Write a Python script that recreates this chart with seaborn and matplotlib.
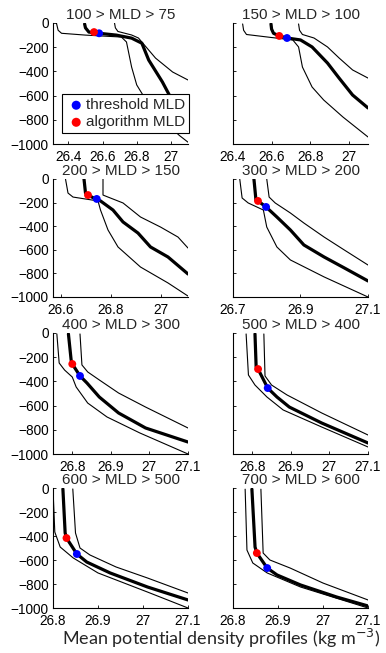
import numpy as np
import pandas as pd
import matplotlib
matplotlib.use("Agg")
import matplotlib.pyplot as plt
import seaborn as sns

# panel titles and axis settings
titles = ["100 > MLD > 75", "150 > MLD > 100", "200 > MLD > 150", "300 > MLD > 200",
          "400 > MLD > 300", "500 > MLD > 400", "600 > MLD > 500", "700 > MLD > 600"]
xlims = [(26.31, 27.1), (26.4, 27.1), (26.57, 27.11), (26.7, 27.1),
         (26.75, 27.1), (26.75, 27.1), (26.8, 27.1), (26.8, 27.1)]
xticks = [[26.4, 26.6, 26.8, 27], [26.4, 26.6, 26.8, 27], [26.6, 26.8, 27], [26.7, 26.9, 27.1],
          [26.8, 26.9, 27, 27.1], [26.8, 26.9, 27, 27.1], [26.8, 26.9, 27, 27.1], [26.8, 26.9, 27, 27.1]]
yticks = [-1000, -800, -600, -400, -200, 0]

# mean density profile (thick line)
mean_x = [
    [26.495, 26.50, 26.52, 26.55, 26.58, 26.68, 26.77, 26.83, 26.87, 26.95, 27.03, 27.1],
    [26.597, 26.60, 26.61, 26.64, 26.68, 26.75, 26.81, 26.89, 26.95, 27.02, 27.1],
    [26.694, 26.70, 26.71, 26.74, 26.76, 26.81, 26.85, 26.91, 26.96, 27.03, 27.11],
    [26.762, 26.768, 26.774, 26.798, 26.83, 26.87, 26.91, 26.97, 27.03, 27.1],
    [26.79, 26.797, 26.80, 26.82, 26.838, 26.87, 26.92, 26.99, 27.1],
    [26.807, 26.81, 26.815, 26.84, 26.864, 26.896, 26.98, 27.1],
    [26.822, 26.827, 26.83, 26.853, 26.875, 26.927, 27.01, 27.1],
    [26.842, 26.849, 26.853, 26.876, 26.898, 26.95, 27.03, 27.1],
]
mean_z = [
    [-8, -40, -75, -80, -85, -100, -125, -167, -306, -487, -700, -840],
    [-8, -50, -85, -107, -124, -140, -198, -331, -455, -595, -702],
    [0, -119, -136, -169, -186, -263, -364, -458, -576, -661, -805],
    [0, -178, -186, -237, -322, -432, -559, -661, -754, -864],
    [-8, -223, -256, -355, -413, -529, -661, -785, -901],
    [-8, -281, -298, -455, -529, -612, -744, -909],
    [-8, -375, -417, -550, -617, -708, -825, -933],
    [-10, -492, -542, -667, -725, -808, -908, -983],
]

# lower envelope (thin line, left)
low_x = [
    [26.33, 26.34, 26.36, 26.5, 26.71, 26.74, 26.77, 26.80, 26.86, 26.95, 27.05, 27.1],
    [26.45, 26.455, 26.47, 26.6, 26.71, 26.74, 26.76, 26.81, 26.87, 26.97, 27.1],
    [26.62, 26.63, 26.65, 26.75, 26.76, 26.79, 26.83, 26.92, 27.03, 27.11],
    [26.72, 26.727, 26.745, 26.79, 26.80, 26.83, 26.87, 26.97, 27.1],
    [26.76, 26.766, 26.78, 26.80, 26.81, 26.84, 26.89, 26.975, 27.1],
    [26.784, 26.79, 26.807, 26.838, 26.88, 26.98, 27.1],
    [26.80, 26.804, 26.816, 26.845, 26.90, 27.01, 27.1],
    [26.827, 26.831, 26.844, 26.876, 26.95, 27.1],
]
low_z = [
    [0, -60, -85, -100, -116, -157, -364, -512, -650, -800, -930, -985],
    [-8, -60, -95, -120, -140, -198, -364, -529, -636, -777, -942],
    [0, -119, -153, -186, -263, -432, -576, -746, -881, -992],
    [0, -161, -203, -263, -407, -576, -686, -830, -1000],
    [-8, -248, -306, -364, -446, -579, -694, -826, -1000],
    [-8, -347, -430, -529, -636, -777, -942],
    [-8, -367, -492, -583, -708, -867, -1000],
    [-10, -517, -625, -708, -825, -1000],
]

# upper envelope (thin line, right)
up_x = [
    [26.67, 26.675, 26.69, 26.77, 26.81, 26.91, 27.01, 27.1],
    [26.74, 26.745, 26.76, 26.82, 26.89, 26.95, 27.02, 27.1],
    [26.77, 26.77, 26.79, 26.85, 26.92, 27.0, 27.07, 27.11],
    [26.80, 26.807, 26.825, 26.87, 26.91, 26.97, 27.03, 27.1],
    [26.82, 26.825, 26.84, 26.87, 26.92, 26.99, 27.1],
    [26.83, 26.833, 26.85, 26.89, 26.98, 27.1],
    [26.844, 26.85, 26.86, 26.882, 26.94, 27.01, 27.1],
    [26.862, 26.867, 26.882, 26.927, 27.0, 27.1],
]
up_z = [
    [0, -40, -70, -99, -124, -290, -405, -471],
    [-8, -60, -95, -124, -198, -289, -388, -455],
    [0, -136, -153, -203, -322, -407, -492, -585],
    [0, -153, -203, -288, -373, -492, -602, -729],
    [-8, -264, -322, -388, -496, -612, -785],
    [-8, -355, -430, -512, -661, -843],
    [-8, -375, -500, -558, -658, -750, -875],
    [-10, -542, -600, -667, -792, -933],
]

# MLD points
thresh_x = [26.58, 26.68, 26.745, 26.798, 26.82, 26.84, 26.853, 26.876]
thresh_z = [-85, -124, -169, -237, -355, -455, -550, -667]
algo_x = [26.55, 26.64, 26.71, 26.774, 26.80, 26.815, 26.83, 26.853]
algo_z = [-75, -107, -136, -186, -256, -298, -417, -542]

sns.set_style("ticks")
plt.rcParams["font.family"] = ["Liberation Sans", "DejaVu Sans"]
plt.rcParams["xtick.direction"] = "in"
plt.rcParams["ytick.direction"] = "in"

fig = plt.figure(figsize=(3.86, 6.53), dpi=100)

W, H = 386, 653
col_left = [53, 233]
col_w = 135
row_top = [23, 179, 333, 488]
row_bot = [144, 297, 454, 608]

for i in range(8):
    r, c = i // 2, i % 2
    ax = fig.add_axes([col_left[c] / W, 1 - row_bot[r] / H, col_w / W,
                       (row_bot[r] - row_top[r]) / H])

    for xs, zs, lw in [(low_x[i], low_z[i], 0.8), (up_x[i], up_z[i], 0.8),
                       (mean_x[i], mean_z[i], 2.3)]:
        d = pd.DataFrame({"x": xs, "z": zs})
        sns.lineplot(data=d, x="x", y="z", sort=False, estimator=None,
                     color="black", lw=lw, ax=ax)

    sns.scatterplot(x=[thresh_x[i]], y=[thresh_z[i]], color="blue", s=32,
                    edgecolor="none", ax=ax, zorder=5,
                    label="threshold MLD" if i == 0 else None)
    sns.scatterplot(x=[algo_x[i]], y=[algo_z[i]], color="red", s=32,
                    edgecolor="none", ax=ax, zorder=5,
                    label="algorithm MLD" if i == 0 else None)

    ax.set_xlim(*xlims[i])
    ax.set_ylim(-1000, 0)
    ax.set_xticks(xticks[i], ["%g" % t for t in xticks[i]])
    ax.set_yticks(yticks)
    if c == 1:
        ax.set_yticklabels([])
    else:
        ax.set_yticklabels(["%d" % t if t == 0 else "\u2212%d" % -t for t in yticks])
    ax.tick_params(labelsize=9.8, length=2.5, width=0.6, pad=3, colors="black")
    ax.tick_params(axis="x", pad=4)
    ax.set_xlabel("")
    ax.set_ylabel("")
    ax.set_title(titles[i], fontsize=11, pad=3)
    for s in ["left", "bottom"]:
        ax.spines[s].set_linewidth(0.8)
        ax.spines[s].set_color("black")
    sns.despine(ax=ax)

    if i == 0:
        leg = ax.legend(loc="lower left", bbox_to_anchor=(0.07, 0.09), fontsize=11,
                        frameon=True, fancybox=False, handletextpad=0.0,
                        borderpad=0.25, labelspacing=0.2, handlelength=1.3,
                        borderaxespad=0, markerscale=1.15)
        leg.get_frame().set_edgecolor("black")
        leg.get_frame().set_linewidth(0.8)
        leg.get_frame().set_alpha(1)
        leg.set_clip_on(False)
    elif ax.get_legend() is not None:
        ax.get_legend().remove()

fig.text(221 / W, 1 - 638 / H, "Mean potential density profiles (kg m$^{-3}$)",
         ha="center", va="center", fontsize=13, family=["Lato", "DejaVu Sans"])

fig.savefig("out.png", dpi=100)
